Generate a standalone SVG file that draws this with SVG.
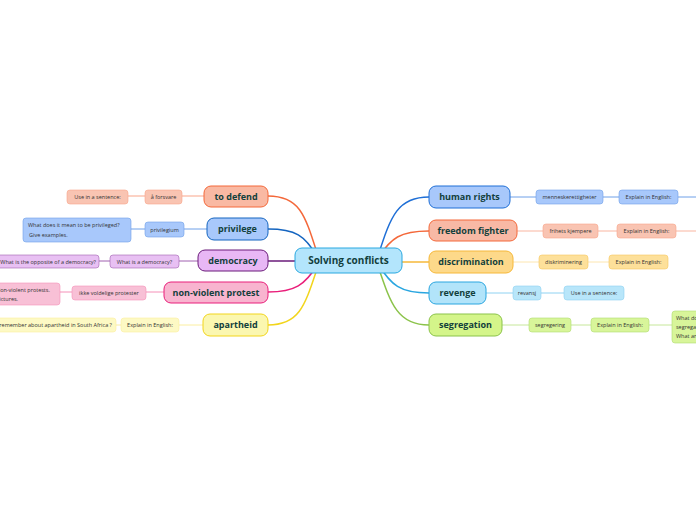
<svg xmlns="http://www.w3.org/2000/svg" width="696" height="520" viewBox="0 0 696 520">
<style>
text{font-family:"Open Sans","Noto Sans",sans-serif;}
.m{font-size:9px;font-weight:bold;fill:#12403c;text-anchor:middle;}
.s{font-size:5.5px;fill:#333;text-anchor:middle;}
.sl{font-size:5.5px;fill:#333;}
.se{font-size:5.5px;fill:#333;text-anchor:end;}
.c{fill:none;stroke-width:1.5;}
.l{fill:none;stroke-width:1;}
</style>
<rect width="696" height="520" fill="#fff"/>
<g id="connectors">
<path class="c" stroke="#f4683a" d="M318,256 C305,215 300,196 268,196"/>
<path class="c" stroke="#1565c0" d="M318,258 C305,235 295,229 268,229"/>
<path class="c" stroke="#6a1b7a" d="M300,261 L268,261"/>
<path class="c" stroke="#e91e7a" d="M318,264 C305,285 295,292 268,292"/>
<path class="c" stroke="#f2d51c" d="M318,266 C305,305 300,325 268,325"/>
<path class="c" stroke="#1f6fd6" d="M378,256 C391,215 398,197 429,197"/>
<path class="c" stroke="#f4683a" d="M378,258 C391,238 400,231 429,231"/>
<path class="c" stroke="#f6b83a" d="M400,262 L429,262"/>
<path class="c" stroke="#2aa6e0" d="M378,264 C391,285 400,293 429,293"/>
<path class="c" stroke="#8bc34a" d="M378,266 C391,305 398,325 429,325"/>
<path class="l" stroke="#f9a58a" d="M204,196 L182,196 M145,196 L128,196"/>
<path class="l" stroke="#6fa0e8" d="M207,229 L184,229 M145,229 L131,229"/>
<path class="l" stroke="#a060b0" d="M198,261 L179,261 M110,261 L99,261"/>
<path class="l" stroke="#f590b8" d="M164,292 L146,292 M72,292 L60,292"/>
<path class="l" stroke="#fbeea0" d="M203,325 L179,325 M121,325 L116,325"/>
<path class="l" stroke="#6fa0e8" d="M510,197 L536,197 M603,197 L619,197 M678,197 L696,197"/>
<path class="l" stroke="#f9b5a0" d="M517,231 L543,231 M598,231 L617,231 M676,231 L696,231"/>
<path class="l" stroke="#fde6b0" d="M513,262 L539,262 M588,262 L609,262"/>
<path class="l" stroke="#8fd2f2" d="M486,293 L513,293 M541,293 L564,293"/>
<path class="l" stroke="#c6e79a" d="M502,325 L529,325 M571,325 L591,325 M649,325 L672,325"/>
</g>
<g id="center"><rect x="295" y="248" width="107" height="25" rx="7" fill="#b3e5fc" stroke="#29a8e0"/><text class="m" x="348.5" y="264" fill="#0b2f4a" style="font-size:10px">Solving conflicts</text></g>
<g id="to-defend"><rect x="204" y="186" width="64" height="21" rx="7" fill="#f9b9a3" stroke="#f4683a"/><text class="m" x="236" y="200">to defend</text></g>
<g id="a-forsvare"><rect x="145" y="190" width="37" height="14" rx="3" fill="#f9c4b2" stroke="#f9a58a" stroke-width=".6"/><text class="s" x="163.5" y="199">å forsvare</text></g>
<g id="defend-use"><rect x="67" y="190" width="61" height="14" rx="3" fill="#f9c4b2" stroke="#f9a58a" stroke-width=".6"/><text class="s" x="97.5" y="199">Use in a sentence:</text></g>
<g id="privilege"><rect x="207" y="218" width="61" height="22" rx="7" fill="#a8c8fb" stroke="#1565c0"/><text class="m" x="237.5" y="232">privilege</text></g>
<g id="privilegium"><rect x="145" y="222" width="39" height="15" rx="3" fill="#a8c8fb" stroke="#6fa0e8" stroke-width=".6"/><text class="s" x="164.5" y="231.5">privilegium</text></g>
<g id="privilege-q"><rect x="23" y="218" width="108" height="24" rx="3" fill="#a8c8fb" stroke="#6fa0e8" stroke-width=".6"/><text class="sl" x="28" y="227">What does it mean to be privileged?</text><text class="sl" x="29" y="237">Give examples.</text></g>
<g id="democracy"><rect x="198" y="250" width="70" height="21" rx="7" fill="#e8b7f5" stroke="#6a1b7a"/><text class="m" x="233" y="264">democracy</text></g>
<g id="what-democracy"><rect x="110" y="255" width="69" height="13" rx="3" fill="#e8c0f3" stroke="#a060b0" stroke-width=".6"/><text class="s" x="144.5" y="263.5">What is a democracy?</text></g>
<g id="opposite"><rect x="-10" y="255" width="109" height="13" rx="3" fill="#e8c0f3" stroke="#a060b0" stroke-width=".6"/><text class="se" x="96" y="263.5">What is the opposite of a democracy?</text></g>
<g id="nonviolent"><rect x="164" y="282" width="104" height="21" rx="7" fill="#f8b4cf" stroke="#e91e7a"/><text class="m" x="216" y="296">non-violent protest</text></g>
<g id="ikke"><rect x="72" y="286" width="74" height="14" rx="3" fill="#f8c0d6" stroke="#f590b8" stroke-width=".6"/><text class="s" x="109" y="295">ikke voldelige protester</text></g>
<g id="nv-q"><rect x="-10" y="283" width="70" height="22" rx="3" fill="#f8c0d6" stroke="#f590b8" stroke-width=".6"/><text class="sl" x="-4" y="291.5">Non-violent protests.</text><text class="sl" x="-4" y="301">Pictures.</text></g>
<g id="apartheid"><rect x="203" y="314" width="65" height="22" rx="7" fill="#fbf7b0" stroke="#f2d51c"/><text class="m" x="235.5" y="328">apartheid</text></g>
<g id="apartheid-exp"><rect x="121" y="318" width="58" height="14" rx="3" fill="#fdf9c4" stroke="#fbeea0" stroke-width=".6"/><text class="s" x="150" y="327">Explain in English:</text></g>
<g id="apartheid-q"><rect x="-30" y="318" width="146" height="14" rx="3" fill="#fdf9c4" stroke="#fbeea0" stroke-width=".6"/><text class="se" x="112" y="327">What do you remember about apartheid in South Africa ?</text></g>
<g id="human-rights"><rect x="429" y="186" width="81" height="22" rx="7" fill="#a8c8fb" stroke="#1f6fd6"/><text class="m" x="469.5" y="200">human rights</text></g>
<g id="menneske"><rect x="536" y="190" width="67" height="14" rx="3" fill="#a8c8fb" stroke="#6fa0e8" stroke-width=".6"/><text class="s" x="569.5" y="199">menneskerettigheter</text></g>
<g id="hr-exp"><rect x="619" y="190" width="59" height="14" rx="3" fill="#a8c8fb" stroke="#6fa0e8" stroke-width=".6"/><text class="s" x="648.5" y="199">Explain in English:</text></g>
<g id="freedom-fighter"><rect x="429" y="220" width="88" height="21" rx="7" fill="#f8b9a5" stroke="#f4683a"/><text class="m" x="473" y="234">freedom fighter</text></g>
<g id="frihets"><rect x="543" y="224" width="55" height="14" rx="3" fill="#f9c4b2" stroke="#f9a58a" stroke-width=".6"/><text class="s" x="570.5" y="233">frihets kjempere</text></g>
<g id="ff-exp"><rect x="617" y="224" width="59" height="14" rx="3" fill="#f9c4b2" stroke="#f9a58a" stroke-width=".6"/><text class="s" x="646.5" y="233">Explain in English:</text></g>
<g id="discrimination"><rect x="429" y="251" width="84" height="22" rx="7" fill="#fdd98a" stroke="#f6b83a"/><text class="m" x="471" y="265">discrimination</text></g>
<g id="diskr"><rect x="539" y="255" width="49" height="14" rx="3" fill="#fde09a" stroke="#f6c860" stroke-width=".6"/><text class="s" x="563.5" y="264">diskriminering</text></g>
<g id="d-exp"><rect x="609" y="255" width="59" height="14" rx="3" fill="#fde09a" stroke="#f6c860" stroke-width=".6"/><text class="s" x="638.5" y="264">Explain in English:</text></g>
<g id="revenge"><rect x="429" y="282" width="57" height="22" rx="7" fill="#b2e4fa" stroke="#2aa6e0"/><text class="m" x="457.5" y="296">revenge</text></g>
<g id="revansj"><rect x="513" y="286" width="28" height="14" rx="3" fill="#b8e6fa" stroke="#8fd2f2" stroke-width=".6"/><text class="s" x="527" y="295">revansj</text></g>
<g id="rev-use"><rect x="564" y="286" width="60" height="14" rx="3" fill="#b8e6fa" stroke="#8fd2f2" stroke-width=".6"/><text class="s" x="594" y="295">Use in a sentence:</text></g>
<g id="segregation"><rect x="429" y="314" width="73" height="22" rx="7" fill="#d4f58a" stroke="#8bc34a"/><text class="m" x="465.5" y="328">segregation</text></g>
<g id="segregering"><rect x="529" y="318" width="42" height="14" rx="3" fill="#d8f59a" stroke="#b0dc70" stroke-width=".6"/><text class="s" x="550" y="327">segregering</text></g>
<g id="seg-exp"><rect x="591" y="318" width="58" height="14" rx="3" fill="#d8f59a" stroke="#b0dc70" stroke-width=".6"/><text class="s" x="620" y="327">Explain in English:</text></g>
<g id="seg-q"><rect x="672" y="311" width="40" height="32" rx="3" fill="#d8f59a" stroke="#b0dc70" stroke-width=".6"/><text class="sl" x="676" y="320">What does</text><text class="sl" x="676" y="329">segregation mean?</text><text class="sl" x="676" y="338">What are</text></g>
</svg>
